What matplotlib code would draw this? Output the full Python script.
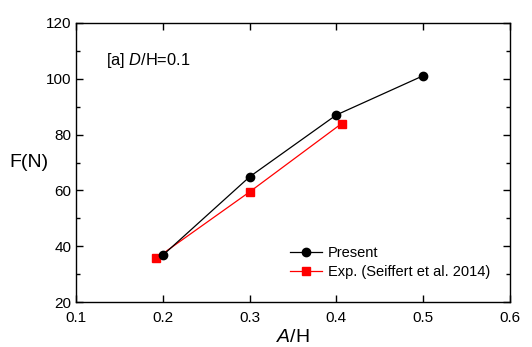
import matplotlib
matplotlib.use("Agg")
import matplotlib.pyplot as plt
from matplotlib.ticker import MultipleLocator

plt.rcParams["font.family"] = ["Liberation Sans", "DejaVu Sans"]
plt.rcParams["mathtext.fontset"] = "custom"
plt.rcParams["mathtext.it"] = "Liberation Sans:italic"
plt.rcParams["mathtext.rm"] = "Liberation Sans"

# Present simulation
present_ah = [0.2, 0.3, 0.4, 0.5]
present_f = [36.9, 64.9, 87.0, 101.0]

# Experiment (Seiffert et al. 2014)
exp_ah = [0.192, 0.3, 0.406]
exp_f = [35.7, 59.5, 83.9]

fig = plt.figure(figsize=(5.32, 3.47), dpi=100)
ax = fig.add_axes([0.1435, 0.1288, 0.8145, 0.8058])

ax.plot(present_ah, present_f, "-o", color="black", lw=0.9, ms=6,
        label="Present", zorder=3)
ax.plot(exp_ah, exp_f, "-s", color="red", lw=0.9, ms=5.2,
        label="Exp. (Seiffert et al. 2014)", zorder=2)

ax.set_xlim(0.1, 0.6)
ax.set_ylim(20, 120)
ax.xaxis.set_major_locator(MultipleLocator(0.1))
ax.yaxis.set_major_locator(MultipleLocator(20))
ax.yaxis.set_minor_locator(MultipleLocator(10))
ax.tick_params(which="both", direction="in", top=True, right=True,
               labelsize=11, width=1)
ax.tick_params(which="major", length=5)
ax.tick_params(which="minor", length=3)
ax.tick_params(axis="x", pad=6)
for s in ax.spines.values():
    s.set_linewidth(1)

ax.set_xlabel(r"$\it{A}$/H", fontsize=14, labelpad=3)
ax.set_ylabel("F(N)", fontsize=14, rotation=0, labelpad=12, va="center")
ax.text(0.069, 0.85, r"[a] $\it{D}$/H=0.1", transform=ax.transAxes,
        fontsize=11.8)

ax.legend(loc="lower right", bbox_to_anchor=(0.985, 0.035), frameon=False,
          fontsize=10.5, handlelength=2.2, handletextpad=0.4,
          labelspacing=0.35)

fig.savefig("out.png", dpi=100)
